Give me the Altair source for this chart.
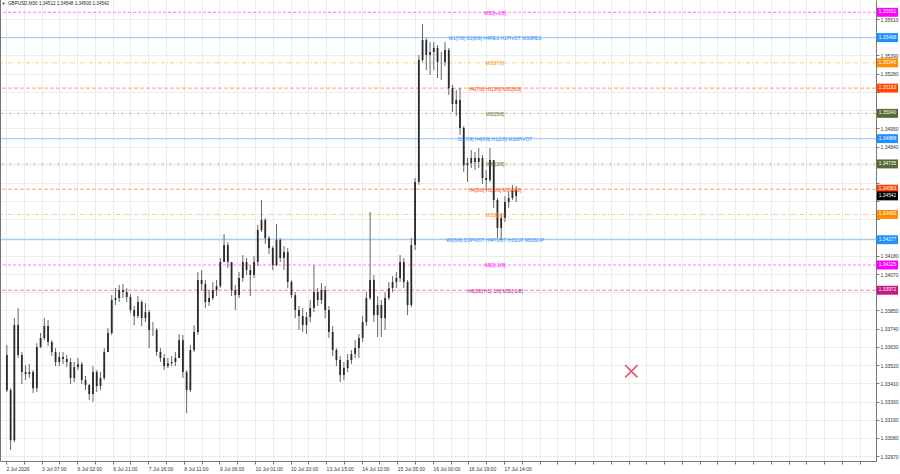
import json
import altair as alt
import pandas as pd

# ---------------- data ----------------
symbol_title = "GBPUSD,M30  1.34512 1.34548 1.34500 1.34542"
m30_per_candle = 4          # each drawn candle groups 4 M30 bars
first_open = 1.33581

close = [1.33369, 1.33067, 1.33762, 1.33581, 1.33478, 1.33466, 1.33478, 1.33381, 1.33629, 1.33683,
         1.33756, 1.33659, 1.33599, 1.33539, 1.33569, 1.33557, 1.33539, 1.33442, 1.33508, 1.33526,
         1.33430, 1.33400, 1.33345, 1.33478, 1.33394, 1.33442, 1.33599, 1.33714, 1.33913, 1.33925,
         1.33973, 1.33961, 1.33931, 1.33853, 1.33816, 1.33901, 1.33804, 1.33840, 1.33732, 1.33732,
         1.33599, 1.33563, 1.33514, 1.33532, 1.33539, 1.33563, 1.33671, 1.33478, 1.33369, 1.33611,
         1.33720, 1.34034, 1.34010, 1.33901, 1.33925, 1.33973, 1.33998, 1.34143, 1.34245, 1.34143,
         1.33973, 1.33943, 1.34046, 1.34143, 1.34094, 1.34064, 1.34143, 1.34336, 1.34396, 1.34287,
         1.34227, 1.34124, 1.34275, 1.34167, 1.34203, 1.34022, 1.33943, 1.33853, 1.33816, 1.33762,
         1.33810, 1.33865, 1.33961, 1.33913, 1.33973, 1.33853, 1.33720, 1.33611, 1.33551, 1.33460,
         1.33502, 1.33551, 1.33587, 1.33623, 1.33683, 1.33780, 1.33925, 1.34034, 1.33822, 1.33883,
         1.33804, 1.33925, 1.33985, 1.34022, 1.34046, 1.34143, 1.34022, 1.33883, 1.34245, 1.34626,
         1.35363, 1.35483, 1.35393, 1.35411, 1.35435, 1.35350, 1.35350, 1.35423, 1.35193, 1.35097,
         1.35121, 1.34952, 1.34728, 1.34740, 1.34771, 1.34747, 1.34771, 1.34650, 1.34638, 1.34759,
         1.34517, 1.34348, 1.34408, 1.34505, 1.34529, 1.34577, 1.34542]

high = [1.33641, 1.33381, 1.33804, 1.33865, 1.33599, 1.33520, 1.33526, 1.33490, 1.33653, 1.33714,
        1.33804, 1.33792, 1.33671, 1.33623, 1.33599, 1.33599, 1.33581, 1.33563, 1.33539, 1.33563,
        1.33539, 1.33454, 1.33406, 1.33514, 1.33490, 1.33478, 1.33623, 1.33744, 1.33943, 1.33985,
        1.34004, 1.34010, 1.33985, 1.33949, 1.33877, 1.33937, 1.33913, 1.33895, 1.33853, 1.33780,
        1.33744, 1.33623, 1.33587, 1.33563, 1.33575, 1.33599, 1.33708, 1.33702, 1.33490, 1.33641,
        1.33762, 1.34082, 1.34094, 1.34034, 1.33973, 1.34022, 1.34034, 1.34167, 1.34312, 1.34263,
        1.34143, 1.34004, 1.34082, 1.34185, 1.34167, 1.34124, 1.34179, 1.34366, 1.34517, 1.34408,
        1.34300, 1.34239, 1.34372, 1.34287, 1.34239, 1.34227, 1.34034, 1.33961, 1.33877, 1.33865,
        1.33840, 1.33913, 1.34124, 1.33985, 1.34016, 1.33998, 1.33877, 1.33756, 1.33623, 1.33575,
        1.33539, 1.33587, 1.33611, 1.33671, 1.33708, 1.33816, 1.33961, 1.34445, 1.34064, 1.33937,
        1.33913, 1.33961, 1.34022, 1.34058, 1.34082, 1.34185, 1.34167, 1.34034, 1.34287, 1.34650,
        1.35393, 1.35580, 1.35495, 1.35471, 1.35471, 1.35453, 1.35411, 1.35471, 1.35435, 1.35212,
        1.35181, 1.35193, 1.34964, 1.34771, 1.34819, 1.34807, 1.34831, 1.34789, 1.34698, 1.34831,
        1.34759, 1.34529, 1.34432, 1.34541, 1.34565, 1.34608, 1.34602]

low = [1.33357, 1.33007, 1.33055, 1.33563, 1.33406, 1.33430, 1.33442, 1.33351, 1.33357, 1.33623,
       1.33671, 1.33635, 1.33575, 1.33514, 1.33514, 1.33526, 1.33508, 1.33406, 1.33418, 1.33490,
       1.33406, 1.33369, 1.33309, 1.33297, 1.33357, 1.33369, 1.33430, 1.33599, 1.33702, 1.33883,
       1.33901, 1.33925, 1.33901, 1.33834, 1.33762, 1.33804, 1.33756, 1.33780, 1.33623, 1.33696,
       1.33575, 1.33539, 1.33490, 1.33502, 1.33514, 1.33514, 1.33563, 1.33442, 1.33230, 1.33357,
       1.33599, 1.33702, 1.33973, 1.33865, 1.33877, 1.33913, 1.33937, 1.33985, 1.34143, 1.34106,
       1.33937, 1.33853, 1.33925, 1.34022, 1.34064, 1.33937, 1.34046, 1.34118, 1.34324, 1.34251,
       1.34191, 1.34094, 1.34118, 1.34143, 1.34094, 1.33985, 1.33925, 1.33804, 1.33732, 1.33720,
       1.33708, 1.33780, 1.33840, 1.33877, 1.33889, 1.33804, 1.33683, 1.33575, 1.33514, 1.33418,
       1.33430, 1.33478, 1.33526, 1.33563, 1.33563, 1.33659, 1.33756, 1.33913, 1.33780, 1.33690,
       1.33690, 1.33732, 1.33913, 1.33961, 1.33985, 1.34022, 1.33985, 1.33822, 1.33870, 1.34215,
       1.34608, 1.35350, 1.35302, 1.35272, 1.35302, 1.35254, 1.35242, 1.35326, 1.35151, 1.35048,
       1.35024, 1.34910, 1.34686, 1.34626, 1.34710, 1.34698, 1.34710, 1.34614, 1.34577, 1.34626,
       1.34469, 1.34287, 1.34275, 1.34384, 1.34469, 1.34517, 1.34505]

time_labels = ["2 Jul 2026", "3 Jul 07:00", "6 Jul 02:00", "6 Jul 21:00", "7 Jul 16:00",
               "8 Jul 11:00", "9 Jul 06:00", "10 Jul 01:00", "10 Jul 20:00", "13 Jul 15:00",
               "14 Jul 10:00", "15 Jul 05:00", "16 Jul 00:00", "16 Jul 19:00", "17 Jul 14:00"]
label_every = 38            # M30 bars between time labels

price_ticks = [round(1.32970 + 0.0011 * k, 5) for k in range(25)]

level_price = [1.356506, 1.354980, 1.353455, 1.351929, 1.350403, 1.348877,
               1.347351, 1.345825, 1.344299, 1.342773, 1.341248, 1.339722]
level_label = ["M30[+1/8]",
               "W1[7/8] D1[8/8] H4RES H1PIVOT M30RES",
               "M30[7/8]",
               "H4[7/8] H1[3/8] M30[6/8]",
               "M30[5/8]",
               "D1[7/8] H4[6/8] H1[2/8] M30PIVOT",
               "M30[3/8]",
               "H4[5/8] H1[1/8] M30[2/8]",
               "M30[1/8]",
               "W1[6/8] D1PIVOT H4PIVOT H1SUP M30SUP",
               "M30[-1/8]",
               "H4[3/8] H1[-1/8] M30[-2/8]"]
level_kind = ["mag", "blue", "orange", "red", "olive", "blue",
              "olive", "red", "orange", "blue", "mag", "maroon"]

current_price = 1.34542
cross_time = 669
cross_price = 1.33483

# ---------------- styles ----------------
text_color = {"mag": "#ff00ff", "blue": "#1e90ff", "orange": "#ff8c00", "red": "#ff4500",
              "olive": "#556b2f", "maroon": "#c71585", "cur": "#000000"}
line_style = {
    "mag": ("#ff7aff", [3, 2]),
    "blue": ("#a6d0f5", None),
    "orange": ("#ffc98a", [4, 2, 1, 2]),
    "red": ("#ff9c80", [4, 2]),
    "olive": ("#bdbda2", [3, 2, 1, 2]),
    "maroon": ("#f285bb", [4, 2]),
}
FONT = "Liberation Sans"
W, H = 876, 461

# ---------------- tables ----------------
n = len(close)
opens = [first_open] + close[:-1]
candles = pd.DataFrame({
    "t": [m30_per_candle * i + 2 for i in range(n)],
    "open": opens,
    "close": close,
    "high": [max(h, o, c) for h, o, c in zip(high, opens, close)],
    "low": [min(l, o, c) for l, o, c in zip(low, opens, close)],
})

levels = pd.DataFrame({"price": level_price, "label": level_label, "kind": level_kind})
levels["col"] = levels["kind"].map(text_color)
boxes = pd.DataFrame({"price": level_price + [current_price],
                      "kind": level_kind + ["cur"]})
boxes["col"] = boxes["kind"].map(text_color)
cross = pd.DataFrame({"t": [cross_time], "price": [cross_price]})

# axis labels hidden under the coloured price boxes (as in the terminal)
box_prices = list(boxes["price"])
hidden = [p for p in price_ticks if any(abs(p - b) < 0.0004 for b in box_prices)]

# ---------------- scales / axes ----------------
xs = alt.Scale(domain=[0, 925], nice=False, zero=False)
ys = alt.Scale(domain=[1.32941, 1.35725], nice=False, zero=False)

x_label_expr = ("(datum.value - 1) % {s} == 0 && (datum.value - 1) / {s} < {n} ? "
                "{arr}[(datum.value - 1) / {s}] : ''").format(
    s=label_every, n=len(time_labels), arr=json.dumps(time_labels))
y_label_expr = "indexof({h}, round(datum.value * 100000)) >= 0 ? '' : format(datum.value, '.5f')".format(
    h=json.dumps([round(p * 100000) for p in hidden]))

xaxis = alt.Axis(values=[1 + 19 * k for k in range(49)], labelExpr=x_label_expr,
                 grid=True, gridColor="#ececec", gridWidth=1,
                 tickSize=3, tickColor="#777", domainColor="#777",
                 labelFontSize=5, labelColor="#333", labelFont=FONT,
                 labelAlign="left", labelPadding=2, labelOverlap=False,
                 labelFlush=False, title=None)
yaxis = alt.Axis(orient="right", values=price_ticks, labelExpr=y_label_expr,
                 grid=True, gridColor="#ececec", gridWidth=1,
                 tickSize=3, tickColor="#777", domainColor="#777",
                 labelFontSize=5, labelColor="#333", labelFont=FONT,
                 labelPadding=1, labelOverlap=False, labelFlush=False, title=None)

X = alt.X("t:Q", scale=xs, axis=xaxis)
Yp = alt.Y("price:Q", scale=ys, axis=yaxis)

# ---------------- layers ----------------
layers = []

for k, (col, dash) in line_style.items():
    kw = dict(color=col, strokeWidth=1.2 if dash is None else 1)
    if dash is not None:
        kw["strokeDash"] = dash
    layers.append(alt.Chart(levels).transform_filter(alt.datum.kind == k)
                  .mark_rule(**kw).encode(y=Yp))

wicks = alt.Chart(candles).mark_rule(color="#666666", strokeWidth=1).encode(
    x=X, y=alt.Y("low:Q", scale=ys, axis=yaxis), y2="high:Q")
bodies = alt.Chart(candles).mark_bar(size=1.8, color="#2a2a2a").encode(
    x=X, y=alt.Y("open:Q", scale=ys, axis=yaxis), y2="close:Q")
layers += [wicks, bodies]

level_text = alt.Chart(levels).mark_text(fontSize=4.8, font=FONT, align="center",
                                         baseline="middle", dy=1.5).encode(
    x=alt.value(495), y=Yp, text="label:N", color=alt.Color("col:N", scale=None))
layers.append(level_text)

box_rect = alt.Chart(boxes).transform_calculate(
    top="datum.price + 0.00027", bot="datum.price - 0.00027").mark_rect(clip=False).encode(
    x=alt.value(W + 1), x2=alt.value(W + 22),
    y=alt.Y("top:Q", scale=ys, axis=yaxis), y2="bot:Q",
    color=alt.Color("col:N", scale=None))
box_text = alt.Chart(boxes).transform_calculate(
    lbl="format(datum.price, '.5f')").mark_text(
    clip=False, fontSize=4.8, font=FONT, color="white", align="center", baseline="middle").encode(
    x=alt.value(W + 11.5), y=Yp, text="lbl:N")
layers += [box_rect, box_text]

cross_mark = alt.Chart(cross).mark_point(
    shape="M-1,-1L1,1M1,-1L-1,1", size=150, color="#dc143c", strokeWidth=1.6, filled=False).encode(
    x=X, y=Yp)
layers.append(cross_mark)

title_df = pd.DataFrame({"txt": [symbol_title]})
title_mark = alt.Chart(title_df).mark_text(fontSize=4.6, font=FONT, color="#222",
                                           align="left", baseline="middle").encode(
    x=alt.value(8), y=alt.value(4), text="txt:N")
tri = alt.Chart(pd.DataFrame({"txt": ["▼"]})).mark_text(fontSize=4, color="#222",
                                                      align="left", baseline="middle").encode(
    x=alt.value(1.5), y=alt.value(3.5), text="txt:N")
left_border = alt.Chart(pd.DataFrame({"a": [0]})).mark_rule(color="#777", strokeWidth=1).encode(
    x=alt.value(0.5), y=alt.value(0), y2=alt.value(H))
layers += [title_mark, tri, left_border]

chart = alt.layer(*layers).properties(
    width=W, height=H,
    padding={"left": 0, "top": 0, "right": 24, "bottom": 13},
    autosize=alt.AutoSizeParams(type="none"),
    background="white",
).configure_view(stroke=None)

chart.save("out.html", embed_options={"renderer": "svg", "actions": False})
